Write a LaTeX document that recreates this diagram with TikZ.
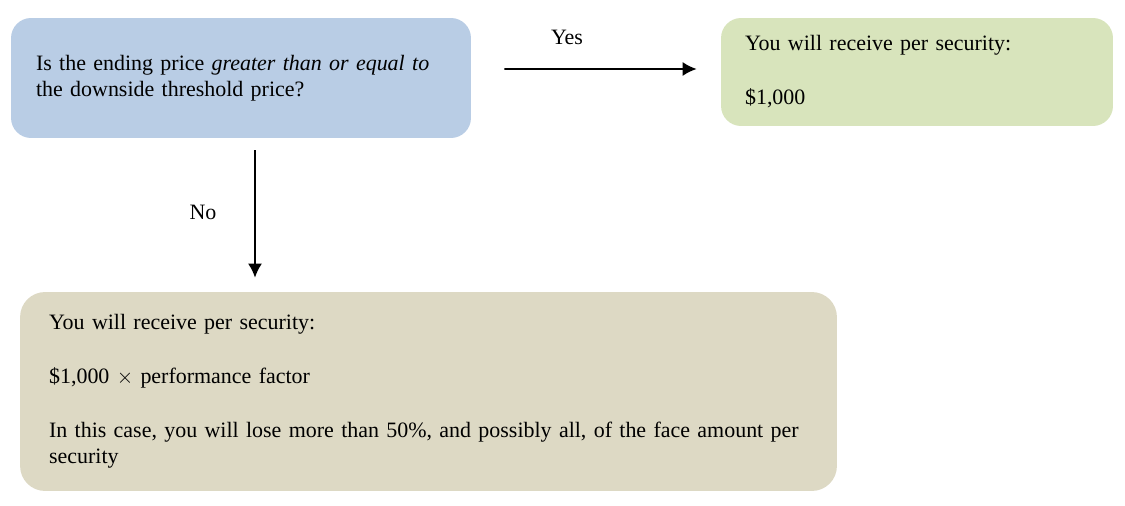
\documentclass[tikz,border=0pt]{standalone}
\usepackage{fontspec}
\setmainfont{Liberation Serif}
\usepackage{xcolor}
\usetikzlibrary{arrows.meta}
\definecolor{qblue}{HTML}{B9CDE5}
\definecolor{ygreen}{HTML}{D8E4BC}
\definecolor{ntan}{HTML}{DDD9C4}
\tikzset{
	box/.style={
			draw=none, rounded corners=0.4cm, align=left, anchor=center,
			font=\fontsize{12.5}{14.8}\selectfont
		},
	flow/.style={-{Latex[length=0.28cm,width=0.28cm]}, black, line width=1.1pt},
	label/.style={font=\fontsize{12.5}{14.8}\selectfont}
}

\begin{document}
\begin{tikzpicture}[x=0.02cm,y=-0.02cm]
		\useasboundingbox (0,0) rectangle (1125,506);
		\node [box, fill=qblue, text width=8.2cm, inner xsep=0.5cm, minimum height=2.4cm]
			(q) at (241,78) {Is the ending price \textit{greater than or equal to}\\the downside threshold price?};
		\node [box, fill=ygreen, text width=6.88cm, inner xsep=0.48cm, minimum height=2.16cm]
			(g) at (917,72) {You will receive per security:\\[0.56cm]\$1,000};
		\node [box, fill=ntan, rounded corners=0.5cm, text width=15.18cm, inner xsep=0.58cm, minimum height=3.98cm]
			(r) at (428.5,391.5) {You will receive per security:\\[0.56cm]\$1,000 $\times$ performance factor\\[0.56cm]In this case, you will lose more than 50\%, and possibly all, of the face amount per\\security};
		\draw [flow, shorten <=0.66cm, shorten >=0.48cm]	([yshift=0.18cm]q.east) -- ([yshift=0.06cm]g.west);
		\draw [flow, shorten <=0.24cm, shorten >=0.28cm]	([xshift=0.28cm]q.south) -- ([xshift=0.28cm]q.south |- r.north);
		\node [label] (yes) at (567,37) {Yes};
		\node [label] (no) at (203,212) {No};
	\end{tikzpicture}
\end{document}
